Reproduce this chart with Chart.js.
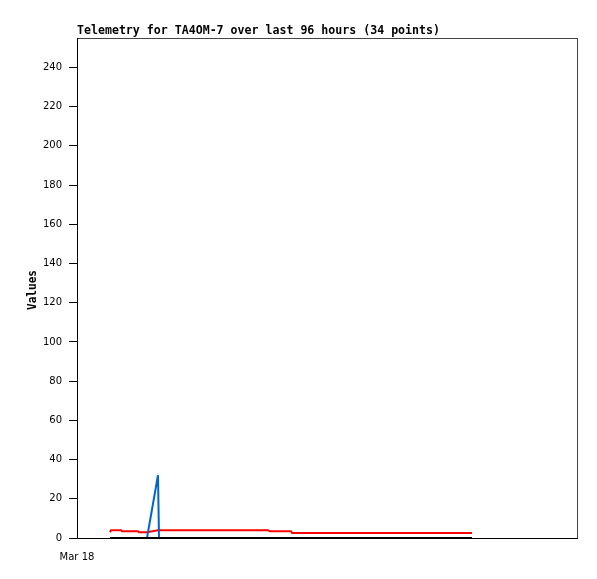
<!DOCTYPE html>
<html>
<head>
<meta charset="utf-8">
<script src="https://cdn.jsdelivr.net/npm/chart.js@4.4.1/dist/chart.umd.min.js"></script>
<style>
  html, body { margin: 0; padding: 0; background: #fff; }
  #chart { display: block; }
</style>
</head>
<body>
<canvas id="chart" width="597" height="579"></canvas>
<script>
// hours since Mar 18 00:00
const hours = [8.71, 8.98, 11.62, 11.88, 16.10, 16.37, 18.48, 21.38, 21.65, 24.55,
  27.72, 31.15, 34.32, 37.75, 40.92, 44.35, 47.52, 50.42, 50.95, 53.59,
  56.50, 56.76, 60.19, 63.62, 67.06, 70.49, 73.92, 77.35, 80.78, 84.22,
  90.82, 97.42, 100.85, 104.28];
const redValues = [2.9, 3.9, 3.9, 3.4, 3.4, 2.9, 2.9, 3.9, 3.9, 3.9,
  3.9, 3.9, 3.9, 3.9, 3.9, 3.9, 3.9, 3.9, 3.4, 3.4,
  3.4, 2.6, 2.6, 2.6, 2.6, 2.6, 2.6, 2.6, 2.6, 2.6,
  2.6, 2.6, 2.6, 2.6];
const blueValues = [0, 0, 0, 0, 0, 0, 0, 32, 0, 0,
  0, 0, 0, 0, 0, 0, 0, 0, 0, 0,
  0, 0, 0, 0, 0, 0, 0, 0, 0, 0,
  0, 0, 0, 0];
const blackValues = [0, 0, 0, 0, 0, 0, 0, 0, 0, 0,
  0, 0, 0, 0, 0, 0, 0, 0, 0, 0,
  0, 0, 0, 0, 0, 0, 0, 0, 0, 0,
  0, 0, 0, 0];
const xTickLabels = [{ value: 0, label: 'Mar 18' }];
const titleText = 'Telemetry for TA4OM-7 over last 96 hours (34 points)';
const yTitle = 'Values';

const toPoints = vals => vals.map((v, i) => ({ x: hours[i], y: v }));

// draw monospace text stretched to a given width
function fitText(ctx, text, x, y, width) {
  ctx.letterSpacing = '0px';
  const w = ctx.measureText(text).width;
  ctx.save();
  ctx.translate(x, y);
  ctx.scale(width / w, 1);
  ctx.fillText(text, 0, 0);
  ctx.restore();
}

const textPlugin = {
  id: 'texts',
  beforeDraw(chart) {
    const { ctx, chartArea } = chart;
    ctx.save();
    ctx.strokeStyle = '#444';
    ctx.lineWidth = 1;
    ctx.strokeRect(chartArea.left + 0.5, chartArea.top + 0.5,
      chartArea.right - chartArea.left, chartArea.bottom - chartArea.top);
    ctx.restore();
  },
  afterDraw(chart) {
    const { ctx, chartArea } = chart;
    ctx.save();
    ctx.fillStyle = '#000';
    ctx.font = 'bold 12px "DejaVu Sans Mono", monospace';
    ctx.textBaseline = 'alphabetic';
    fitText(ctx, titleText, chartArea.left, 34, 363);
    ctx.translate(36, 310);
    ctx.rotate(-Math.PI / 2);
    fitText(ctx, yTitle, 0, 0, 40);
    ctx.restore();
  }
};

new Chart(document.getElementById('chart'), {
  type: 'line',
  data: {
    datasets: [
      { data: toPoints(blackValues), borderColor: '#000', borderWidth: 2 },
      { data: toPoints(blueValues), borderColor: '#0066cc', borderWidth: 2 },
      { data: toPoints(redValues), borderColor: '#ff0000', borderWidth: 2 }
    ]
  },
  options: {
    responsive: false,
    animation: false,
    layout: { padding: { top: 38, right: 20, left: 0, bottom: 0 } },
    elements: { point: { radius: 0 }, line: { tension: 0 } },
    plugins: { legend: { display: false }, tooltip: { enabled: false } },
    scales: {
      x: {
        type: 'linear',
        min: 0,
        max: 132,
        afterFit: s => { s.height = 41; },
        afterBuildTicks: s => { s.ticks = xTickLabels.map(t => ({ value: t.value })); },
        grid: { display: false },
        border: { color: '#000', width: 1 },
        ticks: {
          padding: 5,
          color: '#000',
          maxRotation: 0,
          font: { family: 'DejaVu Sans', size: 10 },
          callback: v => (xTickLabels.find(t => t.value === v) || {}).label
        }
      },
      y: {
        min: 0,
        max: 255,
        afterFit: s => { s.width = 77; },
        grid: { drawOnChartArea: false, drawTicks: true, tickLength: 8, color: '#000' },
        border: { color: '#000', width: 1 },
        ticks: {
          stepSize: 20,
          includeBounds: false,
          padding: 7,
          color: '#000',
          font: { family: 'DejaVu Sans', size: 10 }
        }
      }
    }
  },
  plugins: [textPlugin]
});
</script>
</body>
</html>
